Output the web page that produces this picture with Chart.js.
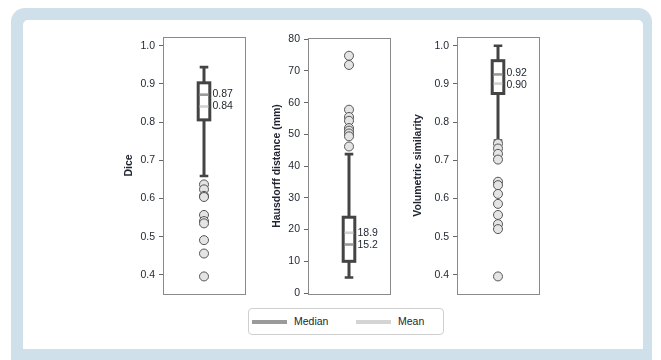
<!DOCTYPE html>
<html>
<head>
<meta charset="utf-8">
<script src="https://cdn.jsdelivr.net/npm/chart.js@4/dist/chart.umd.min.js"></script>
<style>
  html, body { margin: 0; padding: 0; background: #fff; }
  body { width: 661px; height: 360px; position: relative; overflow: hidden; font-family: "Liberation Sans", Arial, sans-serif; }
  #frame { position: absolute; left: 11px; top: 8px; width: 641px; height: 380px; background: #cfe0ea; border-radius: 14px 14px 0 0; }
  #inner { position: absolute; left: 23px; top: 20px; width: 620px; height: 329px; background: #fff; border-radius: 5px 5px 0 0; }
  .wrap { position: absolute; }
  #legend { position: absolute; left: 248px; top: 308px; width: 194px; height: 25px; border: 1px solid #cfcfcf; border-radius: 4px; background: #fff; font-size: 10.5px; color: #1e2530; }
  .sw { position: absolute; top: 11px; width: 35px; height: 4px; }
  .lt { position: absolute; top: 6px; line-height: 13px; }
</style>
</head>
<body>
<div id="frame"></div>
<div id="inner"></div>
<div class="wrap" style="left:110px;top:20px;"><canvas id="c1" width="145" height="290"></canvas></div>
<div class="wrap" style="left:258px;top:20px;"><canvas id="c2" width="142" height="290"></canvas></div>
<div class="wrap" style="left:400px;top:20px;"><canvas id="c3" width="150" height="290"></canvas></div>
<div id="legend">
  <div class="sw" style="left:3px;background:#9a9a9a;"></div><div class="lt" style="left:45px;">Median</div>
  <div class="sw" style="left:107px;background:#d4d4d4;"></div><div class="lt" style="left:149px;">Mean</div>
</div>
<script>
// ---- data ----
const axisTitles = ['Dice', 'Hausdorff distance (mm)', 'Volumetric similarity'];

// [lower whisker, Q1, median, Q3, upper whisker]
const diceBox = [0.659, 0.806, 0.872, 0.903, 0.944];
const diceMean = 0.841;
const diceOutliers = [0.637, 0.624, 0.607, 0.604, 0.557, 0.541, 0.535, 0.491, 0.456, 0.396];
const diceTicks = [0.4, 0.5, 0.6, 0.7, 0.8, 0.9, 1.0];
const diceTickLabels = ['0.4', '0.5', '0.6', '0.7', '0.8', '0.9', '1.0'];
const diceValueLabels = ['0.87', '0.84']; // median, mean

const hausBox = [4.9, 10.0, 15.3, 23.9, 43.8];
const hausMean = 19.0;
const hausOutliers = [74.8, 71.9, 57.8, 55.5, 54.3, 52.0, 51.2, 50.3, 49.4, 46.2];
const hausTicks = [0, 10, 20, 30, 40, 50, 60, 70, 80];
const hausTickLabels = ['0', '10', '20', '30', '40', '50', '60', '70', '80'];
const hausValueLabels = ['15.2', '18.9']; // median, mean

const volBox = [0.752, 0.875, 0.925, 0.961, 1.0];
const volMean = 0.901;
const volOutliers = [0.744, 0.731, 0.717, 0.702, 0.644, 0.635, 0.612, 0.586, 0.557, 0.533, 0.520, 0.396];
const volTicks = [0.4, 0.5, 0.6, 0.7, 0.8, 0.9, 1.0];
const volTickLabels = ['0.4', '0.5', '0.6', '0.7', '0.8', '0.9', '1.0'];
const volValueLabels = ['0.92', '0.90']; // median, mean

// ---- drawing ----
const FONT = '"Liberation Sans", Arial, sans-serif';

const boxPlugin = {
  id: 'boxplot',
  beforeDatasetsDraw(chart, args, opts) {
    const ctx = chart.ctx;
    const xs = chart.scales.x, ys = chart.scales.y;
    const [lo, q1, med, q3, hi] = opts.box;
    const cx = xs.getPixelForValue(0);
    const yLo = ys.getPixelForValue(lo), yQ1 = ys.getPixelForValue(q1), yMed = ys.getPixelForValue(med);
    const yQ3 = ys.getPixelForValue(q3), yHi = ys.getPixelForValue(hi), yMean = ys.getPixelForValue(opts.mean);
    const hw = 5.8, cap = 4.3;
    ctx.save();
    ctx.strokeStyle = '#444';
    ctx.lineCap = 'butt';
    // whiskers
    ctx.lineWidth = 3;
    ctx.beginPath();
    ctx.moveTo(cx, yLo); ctx.lineTo(cx, yQ1);
    ctx.moveTo(cx, yQ3); ctx.lineTo(cx, yHi);
    ctx.stroke();
    ctx.lineWidth = 2.6;
    ctx.beginPath();
    ctx.moveTo(cx - cap, yLo); ctx.lineTo(cx + cap, yLo);
    ctx.moveTo(cx - cap, yHi); ctx.lineTo(cx + cap, yHi);
    ctx.stroke();
    // box
    ctx.fillStyle = '#fff';
    ctx.fillRect(cx - hw, yQ3, hw * 2, yQ1 - yQ3);
    ctx.lineWidth = 3;
    ctx.strokeRect(cx - hw, yQ3, hw * 2, yQ1 - yQ3);
    // median & mean
    ctx.lineWidth = 2.6;
    ctx.strokeStyle = '#9a9a9a';
    ctx.beginPath(); ctx.moveTo(cx - hw + 1.5, yMed); ctx.lineTo(cx + hw - 1.5, yMed); ctx.stroke();
    ctx.strokeStyle = '#d2d2d2';
    ctx.beginPath(); ctx.moveTo(cx - hw + 1.5, yMean); ctx.lineTo(cx + hw - 1.5, yMean); ctx.stroke();
    ctx.restore();
  },
  afterDatasetsDraw(chart, args, opts) {
    const ctx = chart.ctx;
    const xs = chart.scales.x, ys = chart.scales.y;
    const cx = xs.getPixelForValue(0);
    let yMed = ys.getPixelForValue(opts.box[2]);
    let yMean = ys.getPixelForValue(opts.mean);
    // keep the two value labels from overlapping
    const minGap = 12;
    const gap = Math.abs(yMed - yMean);
    if (gap < minGap) {
      const push = (minGap - gap) / 2;
      if (yMed < yMean) { yMed -= push; yMean += push; } else { yMed += push; yMean -= push; }
    }
    ctx.save();
    ctx.font = '10.5px ' + FONT;
    ctx.fillStyle = '#1e2530';
    ctx.textAlign = 'left';
    ctx.textBaseline = 'middle';
    ctx.fillText(opts.labels[0], cx + 8.5, yMed);
    ctx.fillText(opts.labels[1], cx + 8.5, yMean);
    // panel border
    const a = chart.chartArea;
    ctx.strokeStyle = '#8a8a8a';
    ctx.lineWidth = 1;
    ctx.strokeRect(Math.round(a.left) + 0.5, Math.round(a.top) + 0.5, Math.round(a.right - a.left), Math.round(a.bottom - a.top));
    ctx.restore();
  }
};

function makePanel(id, title, box, mean, outliers, ticks, tickLabels, valueLabels, yMin, yMax, axisW, pad) {
  new Chart(document.getElementById(id), {
    type: 'scatter',
    data: {
      datasets: [{
        data: outliers.map(v => ({ x: 0, y: v })),
        pointRadius: 4.5,
        pointBackgroundColor: '#e4e4e4',
        pointBorderColor: '#555',
        pointBorderWidth: 1,
        pointHoverRadius: 4.5
      }]
    },
    options: {
      responsive: false,
      animation: false,
      devicePixelRatio: 1,
      layout: { padding: pad },
      plugins: {
        legend: { display: false },
        tooltip: { enabled: false },
        boxplot: { box: box, mean: mean, labels: valueLabels }
      },
      scales: {
        x: { type: 'linear', min: -1, max: 1, display: false },
        y: {
          type: 'linear', min: yMin, max: yMax,
          afterBuildTicks: s => { s.ticks = ticks.map(v => ({ value: v })); },
          afterFit: s => { s.width = axisW; },
          ticks: {
            padding: 4,
            color: '#1e2530',
            font: { family: FONT, size: 10.5 },
            callback: (v, i) => tickLabels[i]
          },
          grid: { drawOnChartArea: false, drawTicks: true, tickLength: 4, color: '#666' },
          border: { display: false },
          title: {
            display: true, text: title, color: '#1e2530',
            font: { family: FONT, size: 10.5, weight: 'bold' },
            padding: { top: 3, bottom: 0 }
          }
        }
      }
    },
    plugins: [boxPlugin]
  });
}

makePanel('c1', axisTitles[0], diceBox, diceMean, diceOutliers, diceTicks, diceTickLabels, diceValueLabels,
  0.35, 1.023, 43, { left: 10, right: 10, top: 17, bottom: 16 });
makePanel('c2', axisTitles[1], hausBox, hausMean, hausOutliers, hausTicks, hausTickLabels, hausValueLabels,
  -0.3, 80.4, 40, { left: 10, right: 10, top: 18, bottom: 16 });
makePanel('c3', axisTitles[2], volBox, volMean, volOutliers, volTicks, volTickLabels, volValueLabels,
  0.35, 1.023, 48, { left: 9, right: 11, top: 17, bottom: 16 });
</script>
</body>
</html>
